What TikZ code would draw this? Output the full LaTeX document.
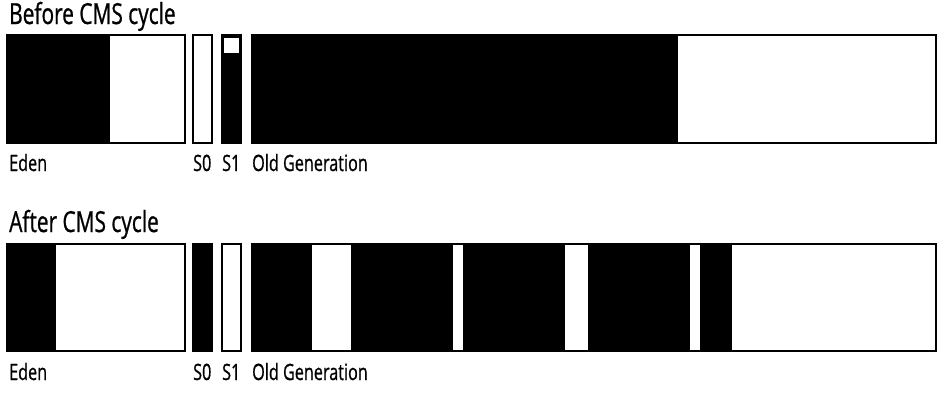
\documentclass[tikz,border=0pt]{standalone}
\usepackage{fontspec}
\setmainfont[FakeStretch=0.72,FakeBold=0.8]{Open Sans}
\begin{document}
\begin{tikzpicture}[x=1pt,y=-1pt,
  lbl/.style={anchor=base west,inner sep=0pt,font=\fontsize{22.5}{22.5}\selectfont},
  ttl/.style={anchor=base west,inner sep=0pt,font=\fontsize{29}{29}\selectfont},
  used/.style={fill=black},
  frame/.style={draw=black,line width=2.5pt}]
  \useasboundingbox (0,0) rectangle (940,402);
  % vor dem CMS-Zyklus
  \node[ttl] (tbefore) at (9,24) {Before CMS cycle};
  \fill[used] (7,35) rectangle (110,143);
  \draw[frame] (7,35) rectangle (185,143);
  \draw[frame] (193,35) rectangle (212,143);
  \fill[used] (222,35) rectangle (241,143);
  \fill[white] (224,38) rectangle (239,53);
  \draw[frame] (222,35) rectangle (241,143);
  \fill[used] (252,35) rectangle (678,143);
  \draw[frame] (252,35) rectangle (936,143);
  \node[lbl] (eden1) at (9,171) {Eden};
  \node[lbl] (sa1) at (193,171) {S0};
  \node[lbl] (sb1) at (222,171) {S1};
  \node[lbl] (old1) at (252,171) {Old Generation};
  % nach dem CMS-Zyklus
  \node[ttl] (tafter) at (9,232) {After CMS cycle};
  \fill[used] (7,244) rectangle (56,351);
  \draw[frame] (7,244) rectangle (185,351);
  \fill[used] (193,244) rectangle (212,351);
  \draw[frame] (193,244) rectangle (212,351);
  \draw[frame] (222,244) rectangle (241,351);
  \fill[used] (252,244) rectangle (312,351);
  \fill[used] (351,244) rectangle (453,351);
  \fill[used] (463,244) rectangle (565,351);
  \fill[used] (588,244) rectangle (690,351);
  \fill[used] (700,244) rectangle (732,351);
  \draw[frame] (252,244) rectangle (936,351);
  \node[lbl] (eden2) at (9,380) {Eden};
  \node[lbl] (sa2) at (193,380) {S0};
  \node[lbl] (sb2) at (222,380) {S1};
  \node[lbl] (old2) at (252,380) {Old Generation};
\end{tikzpicture}
\end{document}
